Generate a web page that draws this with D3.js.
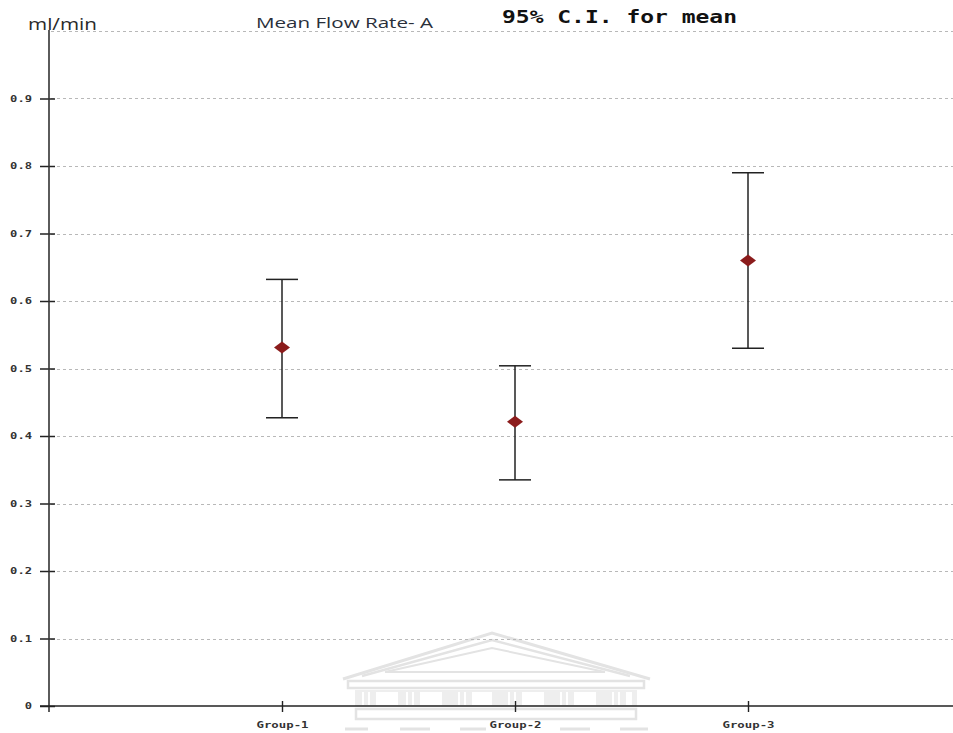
<!DOCTYPE html>
<html><head><meta charset="utf-8">
<script src="https://cdn.jsdelivr.net/npm/d3@7"></script>
<style>
html,body{margin:0;padding:0;background:#fff;}
svg{display:block;}
</style></head>
<body>
<svg id="chart" width="953" height="733"></svg>
<script>
const groups = ["Group-1", "Group-2", "Group-3"];
const means = [0.531, 0.421, 0.660];
const lower = [0.427, 0.335, 0.530];
const upper = [0.632, 0.504, 0.790];
const yTicks = [0, 0.1, 0.2, 0.3, 0.4, 0.5, 0.6, 0.7, 0.8, 0.9];
const gridValues = [0.1, 0.2, 0.3, 0.4, 0.5, 0.6, 0.7, 0.8, 0.9, 1.0];
const unitLabel = "ml/min";
const subtitle = "Mean Flow Rate- A";
const title = "95% C.I. for mean";

const svg = d3.select("#chart");
const W = 953, H = 733;
const x0 = 49, yBottom = 706, yTop = 31;

const y = d3.scaleLinear().domain([0, 1]).range([yBottom, yTop]);
const x = d3.scalePoint().domain(groups).range([x0, x0 + 4 * 233]).padding(1);

// watermark (faint building logo)
const wmc = "#e3e3e3";
const wm = svg.append("g").attr("fill", "none").attr("stroke", wmc);
wm.append("path").attr("d", "M343,679 L492,633 L650,679").attr("stroke-width", 3);
wm.append("path").attr("d", "M362,676 L492,640 L630,676").attr("stroke-width", 2.5);
wm.append("path").attr("d", "M385,672 L492,648 L605,672 Z").attr("stroke-width", 2);
wm.append("rect").attr("x", 348).attr("y", 681).attr("width", 296).attr("height", 7).attr("stroke-width", 2.5);
wm.append("rect").attr("x", 355).attr("y", 690).attr("width", 282).attr("height", 16).attr("fill", "#eeeeee").attr("stroke", "none");
const winG = wm.append("g").attr("fill", "#fff").attr("stroke", "none");
[[362,2],[368,2],[376,22],[406,2],[412,2],[420,22],[458,2],[464,2],[472,20],[508,2],[514,2],[522,22],[560,2],[566,2],[574,22],[612,2],[618,2],[626,6]].forEach(d => {
  winG.append("rect").attr("x", d[0]).attr("y", 692).attr("width", d[1]).attr("height", 13);
});
wm.append("rect").attr("x", 356).attr("y", 709).attr("width", 280).attr("height", 10).attr("stroke-width", 2.5);
const dashG = wm.append("g").attr("stroke-width", 3);
[[345,368],[400,430],[460,486],[560,590],[620,648]].forEach(d => {
  dashG.append("line").attr("x1", d[0]).attr("x2", d[1]).attr("y1", 729).attr("y2", 729);
});

// gridlines
svg.append("g").selectAll("line").data(gridValues).join("line")
  .attr("x1", x0 + 2).attr("x2", W)
  .attr("y1", d => Math.round(y(d)) + 0.5).attr("y2", d => Math.round(y(d)) + 0.5)
  .attr("stroke", "#b8b8b8").attr("stroke-width", 1).attr("stroke-dasharray", "3,3");

// y axis
const yAxis = d3.axisLeft(y).tickValues(yTicks).tickSize(9).tickPadding(6)
  .tickFormat(d => d === 0 ? "0" : d3.format(".1f")(d));
const gy = svg.append("g").attr("transform", `translate(${x0},0)`).call(yAxis);
gy.select(".domain").remove();
gy.selectAll(".tick line").attr("x2", -9).attr("x1", 6).attr("stroke", "#222").attr("stroke-width", 1.5);
gy.selectAll(".tick text").attr("font-family", "DejaVu Sans Mono, monospace").attr("font-size", 9)
  .attr("font-weight", "bold").attr("fill", "#333").attr("dx", -2)
  .attr("textLength", d => (d === 0 ? 1 : 3) * 7.3).attr("lengthAdjust", "spacingAndGlyphs");
svg.append("line").attr("x1", x0).attr("x2", x0).attr("y1", yTop - 1).attr("y2", yBottom + 6)
  .attr("stroke", "#333").attr("stroke-width", 1.6);

// x axis
const xAxis = d3.axisBottom(x).tickSize(6).tickPadding(10);
const gx = svg.append("g").attr("transform", `translate(0,${yBottom})`).call(xAxis);
gx.select(".domain").remove();
gx.selectAll(".tick line").attr("y1", -5).attr("y2", 6).attr("stroke", "#222").attr("stroke-width", 1.4);
gx.selectAll(".tick text").attr("font-family", "DejaVu Sans Mono, monospace").attr("font-size", 9)
  .attr("font-weight", "bold").attr("fill", "#333")
  .attr("textLength", 52).attr("lengthAdjust", "spacingAndGlyphs");
svg.append("line").attr("x1", x0 - 9).attr("x2", W).attr("y1", yBottom).attr("y2", yBottom)
  .attr("stroke", "#222").attr("stroke-width", 1.5);

// error bars
const data = groups.map((g, i) => ({g, m: means[i], lo: lower[i], hi: upper[i]}));
const eb = svg.append("g").attr("stroke", "#222").attr("stroke-width", 1.5);
eb.selectAll("line.v").data(data).join("line").attr("class", "v")
  .attr("x1", d => x(d.g)).attr("x2", d => x(d.g)).attr("y1", d => y(d.hi)).attr("y2", d => y(d.lo));
eb.selectAll("line.hi").data(data).join("line").attr("class", "hi")
  .attr("x1", d => x(d.g) - 16).attr("x2", d => x(d.g) + 16).attr("y1", d => y(d.hi)).attr("y2", d => y(d.hi));
eb.selectAll("line.lo").data(data).join("line").attr("class", "lo")
  .attr("x1", d => x(d.g) - 16).attr("x2", d => x(d.g) + 16).attr("y1", d => y(d.lo)).attr("y2", d => y(d.lo));

// mean diamonds
svg.append("g").selectAll("path").data(data).join("path")
  .attr("d", d => { const cx = x(d.g), cy = y(d.m); return `M${cx-8},${cy} L${cx},${cy-6} L${cx+8},${cy} L${cx},${cy+6} Z`; })
  .attr("fill", "#8b1c1c");

// texts
svg.append("text").attr("x", 28).attr("y", 30).text(unitLabel)
  .attr("font-family", "Open Sans, sans-serif").attr("font-size", 16).attr("fill", "#2a2a2a")
  .attr("textLength", 69).attr("lengthAdjust", "spacingAndGlyphs");
svg.append("text").attr("x", 256).attr("y", 28).text(subtitle)
  .attr("font-family", "Open Sans, sans-serif").attr("font-size", 15).attr("fill", "#2a2f3a")
  .attr("textLength", 177).attr("lengthAdjust", "spacingAndGlyphs");
svg.append("text").attr("x", 502).attr("y", 23).text(title)
  .attr("font-family", "DejaVu Sans Mono, monospace").attr("font-size", 18).attr("font-weight", "bold")
  .attr("fill", "#111").attr("textLength", 235).attr("lengthAdjust", "spacingAndGlyphs");
</script>
</body></html>
